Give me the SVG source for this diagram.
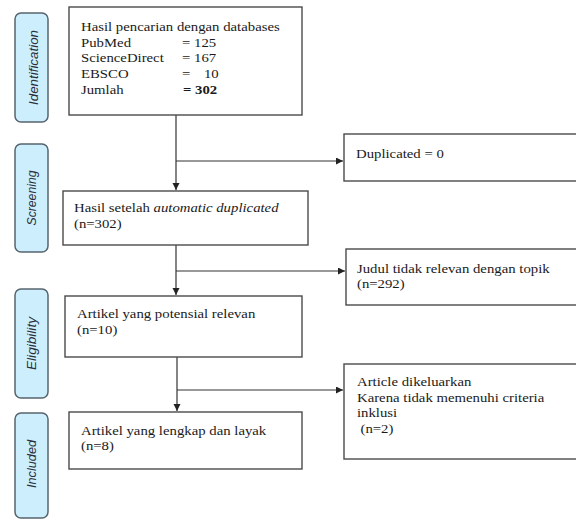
<svg xmlns="http://www.w3.org/2000/svg" width="576" height="520" viewBox="0 0 576 520">
<defs>
<style>
.bg{fill:#ffffff}
.phase rect{fill:#cdeefd;stroke:#56646e;stroke-width:1.5}
.phase text{font-family:"Liberation Sans",Arial,sans-serif;font-style:italic;font-size:12px;fill:#2a2f3a;text-anchor:middle}
.box rect{fill:#ffffff;stroke:#4a4a4a;stroke-width:1.4}
.box text{font-family:"Liberation Serif","Times New Roman",serif;font-size:13.3px;fill:#1a1a1a}
.conn path{fill:none;stroke:#333333;stroke-width:1.2}
</style>
<marker id="arr" markerUnits="userSpaceOnUse" markerWidth="8" markerHeight="8" refX="7" refY="3.5" orient="auto">
<path d="M0,0 L7,3.5 L0,7 z" fill="#222222"/>
</marker>
</defs>
<rect class="bg" x="0" y="0" width="576" height="520"/>

<g id="phase-identification" class="phase">
<rect x="15" y="13" width="33" height="109" rx="6"/>
<text transform="translate(38,67.5) rotate(-90)" textLength="75" lengthAdjust="spacingAndGlyphs">Identification</text>
</g>
<g id="phase-screening" class="phase">
<rect x="15" y="144" width="33" height="108" rx="6"/>
<text transform="translate(36,198) rotate(-90)" textLength="55" lengthAdjust="spacingAndGlyphs">Screening</text>
</g>
<g id="phase-eligibility" class="phase">
<rect x="15" y="289" width="33" height="109" rx="6"/>
<text transform="translate(36,343.5) rotate(-90)" textLength="53" lengthAdjust="spacingAndGlyphs">Eligibility</text>
</g>
<g id="phase-included" class="phase">
<rect x="15" y="413" width="33" height="105" rx="6"/>
<text transform="translate(36,464) rotate(-90)" textLength="48" lengthAdjust="spacingAndGlyphs">Included</text>
</g>

<g id="connectors" class="conn">
<path d="M176,115 V190" marker-end="url(#arr)"/>
<path d="M176,161 H343" marker-end="url(#arr)"/>
<path d="M176,245 V295" marker-end="url(#arr)"/>
<path d="M176,271 H345" marker-end="url(#arr)"/>
<path d="M177,357 V411" marker-end="url(#arr)"/>
<path d="M177,390 H343" marker-end="url(#arr)"/>
</g>

<g id="node-databases" class="box">
<rect x="69" y="7" width="233" height="108"/>
<text x="81" y="31" transform="matrix(1.11 0 0 1 -8.91 0)">Hasil pencarian dengan databases</text>
<text x="81" y="46.7" transform="matrix(1.11 0 0 1 -8.91 0)">PubMed</text>
<text x="81" y="62.3" transform="matrix(1.11 0 0 1 -8.91 0)">ScienceDirect</text>
<text x="81" y="78" transform="matrix(1.11 0 0 1 -8.91 0)">EBSCO</text>
<text x="81" y="93.7" transform="matrix(1.11 0 0 1 -8.91 0)">Jumlah</text>
<text x="182" y="46.7" transform="matrix(1.11 0 0 1 -20.02 0)">= 125</text>
<text x="182" y="62.3" transform="matrix(1.11 0 0 1 -20.02 0)">= 167</text>
<text x="182" y="78" transform="matrix(1.11 0 0 1 -20.02 0)">=</text>
<text x="204" y="78" transform="matrix(1.11 0 0 1 -22.44 0)">10</text>
<text x="183" y="93.7" transform="matrix(1.11 0 0 1 -20.13 0)" font-weight="bold">= 302</text>
</g>

<g id="node-screening" class="box">
<rect x="63" y="191" width="245" height="54"/>
<text x="74" y="212.3" transform="matrix(1.11 0 0 1 -8.14 0)">Hasil setelah <tspan font-style="italic">automatic duplicated</tspan></text>
<text x="74" y="228" transform="matrix(1.11 0 0 1 -8.14 0)">(n=302)</text>
</g>

<g id="node-duplicated" class="box">
<rect x="344" y="134" width="240" height="47"/>
<text x="356" y="158" transform="matrix(1.11 0 0 1 -39.16 0)">Duplicated = 0</text>
</g>

<g id="node-eligibility" class="box">
<rect x="65" y="296" width="237" height="61"/>
<text x="77" y="318" transform="matrix(1.11 0 0 1 -8.47 0)">Artikel yang potensial relevan</text>
<text x="77" y="334" transform="matrix(1.11 0 0 1 -8.47 0)">(n=10)</text>
</g>

<g id="node-judul" class="box">
<rect x="346" y="249" width="240" height="56"/>
<text x="357" y="272.7" transform="matrix(1.11 0 0 1 -39.27 0)">Judul tidak relevan dengan topik</text>
<text x="357" y="288.3" transform="matrix(1.11 0 0 1 -39.27 0)">(n=292)</text>
</g>

<g id="node-included" class="box">
<rect x="69" y="412" width="233" height="57"/>
<text x="81" y="434.7" transform="matrix(1.11 0 0 1 -8.91 0)">Artikel yang lengkap dan layak</text>
<text x="81" y="450.3" transform="matrix(1.11 0 0 1 -8.91 0)">(n=8)</text>
</g>

<g id="node-article" class="box">
<rect x="344" y="364" width="240" height="95"/>
<text x="357" y="386" transform="matrix(1.11 0 0 1 -39.27 0)">Article dikeluarkan</text>
<text x="357" y="401.7" transform="matrix(1.11 0 0 1 -39.27 0)">Karena tidak memenuhi criteria</text>
<text x="357" y="417.4" transform="matrix(1.11 0 0 1 -39.27 0)">inklusi</text>
<text x="360.5" y="433.1" transform="matrix(1.11 0 0 1 -39.66 0)">(n=2)</text>
</g>
</svg>
